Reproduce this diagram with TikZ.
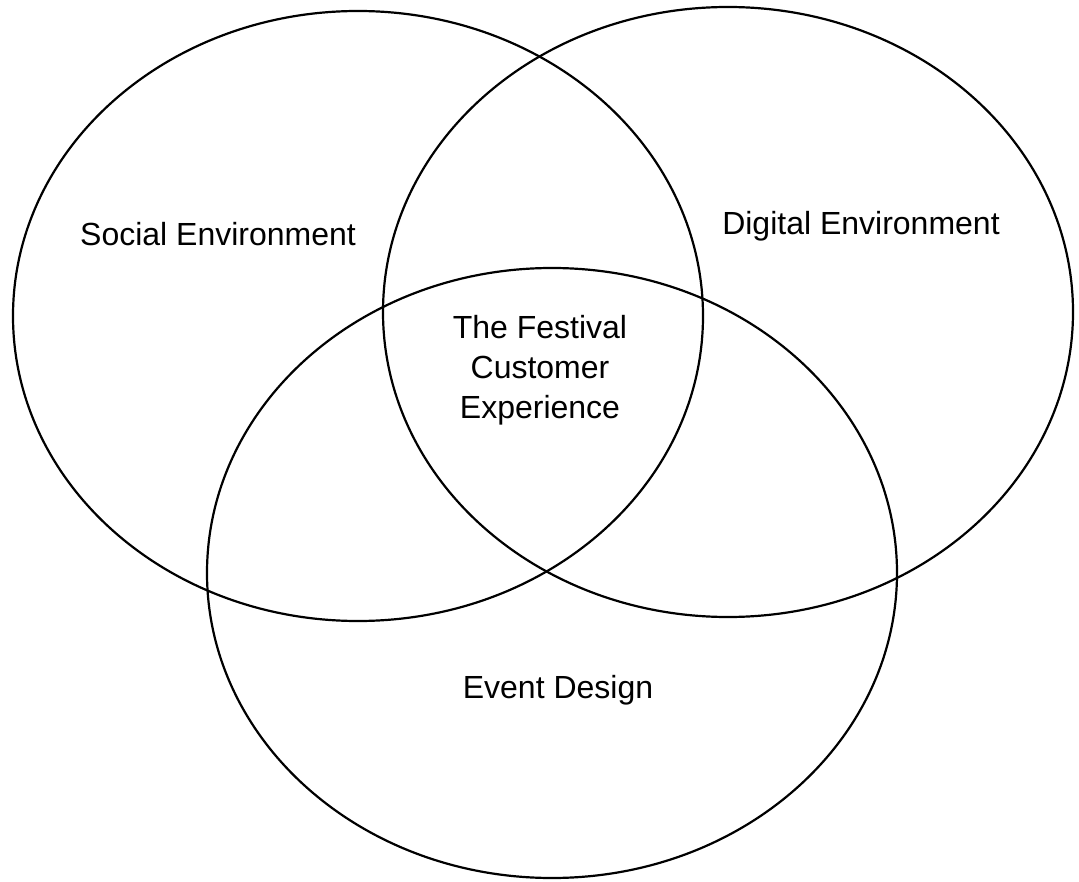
\documentclass[tikz,border=0pt]{standalone}
\usepackage{fontspec}
\setmainfont{Liberation Sans}
\usetikzlibrary{shapes.geometric,positioning}

\begin{document}
\begin{tikzpicture}[x=1pt,y=-1pt]
\tikzstyle{set}=[ellipse, draw=black, line width=2.2pt, minimum width=690pt, minimum height=610pt, inner sep=0pt]
\tikzstyle{txt}=[font=\fontsize{32}{40}\selectfont, align=center, inner sep=0pt]
\useasboundingbox (0,0) rectangle (1079,882);
  \node[set] (social) at (358,316) { };
  \node[set] (digital) at (728,312) { };
  \node[set] (design) at (552,573) { };
  \node[txt] (socialtxt) at (218,234) {Social Environment};
  \node[txt] (digitaltxt) at (861,226) {Digital Environment};
  \node[txt] (designtxt) at (558,690) {Event Design};
  \node[txt] (core) at (540,370) {The Festival\\Customer\\Experience};
\end{tikzpicture}
\end{document}
